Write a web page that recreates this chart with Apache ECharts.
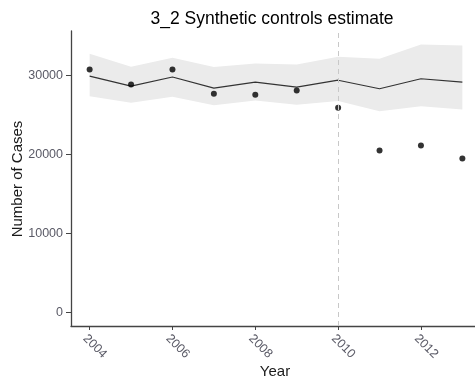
<!DOCTYPE html>
<html><head><meta charset="utf-8">
<script src="https://cdn.jsdelivr.net/npm/echarts@6/dist/echarts.min.js"></script>
<style>html,body{margin:0;padding:0;background:#fff}#c{width:475px;height:387px}</style>
</head><body><div id="c"></div>
<script>
var years = [2004,2005,2006,2007,2008,2009,2010,2011,2012,2013];
var observed = [30760,28860,30760,27680,27550,28100,25910,20500,21140,19490];
var synthetic = [29910,28650,29790,28390,29150,28520,29400,28310,29580,29150];
var upper = [32740,31100,32240,31050,31520,31390,32360,32110,33920,33800];
var lower = [27380,26540,27300,26240,26840,26290,26750,25480,26110,25700];
var xTicks = [2004,2006,2008,2010,2012];
var yTicks = [0,10000,20000,30000];
var interventionYear = 2010;
var xTitle = 'Year';
var yTitle = 'Number of Cases';

var chart = echarts.init(document.getElementById('c'), null, {renderer:'canvas'});
var font = 'Liberation Sans, Arial, sans-serif';
chart.setOption({
  animation:false,
  title:{text:'3_2 Synthetic controls estimate', left:267, top:5, textAlign:'center',
    textStyle:{fontFamily:font, fontSize:17.5, fontWeight:'normal', color:'#000'}},
  graphic:[
    {type:'text', left:null, x:275, y:372, silent:true,
      style:{text:xTitle, fontFamily:font, fontSize:15, fill:'#1a1a1a', align:'center', verticalAlign:'middle'}},
    {type:'text', x:18, y:179, rotation:Math.PI/2, silent:true,
      style:{text:yTitle, fontFamily:font, fontSize:15, fill:'#1a1a1a', align:'center', verticalAlign:'middle'}}
  ],
  grid:{left:71, right:-6, top:31, bottom:61, outerBoundsMode:'none', containLabel:false},
  xAxis:{type:'value', min:2003.55, max:2013.45,
    axisLine:{show:true, onZero:false, lineStyle:{color:'#444', width:1.3}},
    axisTick:{show:true, length:4, customValues:xTicks, lineStyle:{color:'#444'}},
    axisLabel:{customValues:xTicks, rotate:-45, fontFamily:font, fontSize:12.5, color:'#5a5a66', margin:6,
      verticalAlign:'top', formatter:function(v){return String(v);}},
    splitLine:{show:false}},
  yAxis:{type:'value', min:-1700, max:35620,
    axisLine:{show:true, onZero:false, lineStyle:{color:'#444', width:1.3}},
    axisTick:{show:true, length:5, customValues:yTicks, lineStyle:{color:'#444'}},
    axisLabel:{customValues:yTicks, fontFamily:font, fontSize:12.5, color:'#5a5a66', margin:8,
      formatter:function(v){return String(v);}},
    splitLine:{show:false}},
  series:[
    {type:'custom', silent:true, z:1,
      data:[0],
      renderItem:function(params, api){
        var pts = [];
        for (var i=0;i<years.length;i++) pts.push(api.coord([years[i], upper[i]]));
        for (var j=years.length-1;j>=0;j--) pts.push(api.coord([years[j], lower[j]]));
        return {type:'polygon', shape:{points:pts}, style:{fill:'#ebebeb'}};
      }},
    {type:'line', symbol:'none', data:years.map(function(y,i){return [y, synthetic[i]];}),
      lineStyle:{color:'#333', width:1.1}, z:3,
      markLine:{silent:true, symbol:'none', label:{show:false},
        lineStyle:{color:'#c8c8c8', type:[5,4], width:1},
        data:[{xAxis:interventionYear}]}},
    {type:'scatter', symbol:'circle', symbolSize:6,
      data:years.map(function(y,i){return [y, observed[i]];}),
      itemStyle:{color:'#000'}, z:4}
  ]
});
</script></body></html>
